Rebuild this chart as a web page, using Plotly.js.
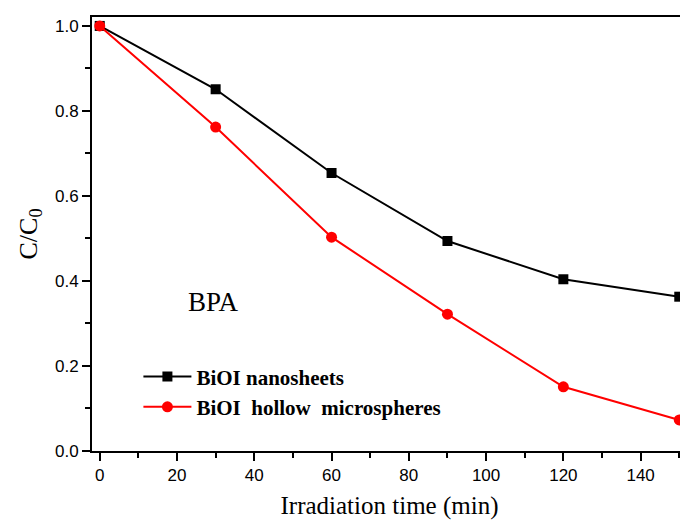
<!DOCTYPE html>
<html><head><meta charset="utf-8">
<script src="https://cdn.plot.ly/plotly-3.0.1.min.js"></script>
<style>html,body{margin:0;padding:0;overflow:hidden;background:#fff;width:680px;height:525px}</style>
</head><body><div id="chart" style="width:700px;height:525px"></div>
<script>
const time = [0, 30, 60, 90, 120, 150];
const nanosheets = [1.0, 0.851, 0.654, 0.494, 0.404, 0.363];
const hollow = [1.0, 0.762, 0.503, 0.322, 0.151, 0.073];
const seriesNames = ['BiOI nanosheets', 'BiOI&nbsp; hollow&nbsp; microspheres'];
const xTicks = [0, 20, 40, 60, 80, 100, 120, 140];
const yTicks = [0.0, 0.2, 0.4, 0.6, 0.8, 1.0];

const traces = [
  {x: time, y: nanosheets, name: seriesNames[0], mode: 'lines+markers', cliponaxis: false,
   line: {color: 'black', width: 2}, marker: {symbol: 'square', size: 10, color: 'black'}},
  {x: time, y: hollow, name: seriesNames[1], mode: 'lines+markers', cliponaxis: false,
   line: {color: '#ff0000', width: 2}, marker: {symbol: 'circle', size: 11, color: '#ff0000'}}
];

const axisCommon = {
  showline: true, linecolor: 'black', linewidth: 2, mirror: true,
  ticks: 'outside', tickcolor: 'black', tickwidth: 2, ticklen: 8,
  showgrid: false, zeroline: false,
  tickfont: {family: 'Liberation Sans, Arial', size: 17, color: 'black'}
};

const layout = {
  width: 700, height: 525,
  margin: {l: 92, r: 13, t: 17, b: 74},
  paper_bgcolor: 'white', plot_bgcolor: 'white',
  showlegend: true,
  legend: {x: 0.078, y: 0.218, xanchor: 'left', yanchor: 'top', bgcolor: 'rgba(0,0,0,0)',
           font: {family: 'Liberation Serif, Times New Roman', size: 21, color: 'black', weight: 'bold'},
           tracegroupgap: 0, itemwidth: 48},
  xaxis: Object.assign({}, axisCommon, {
    range: [-2, 152], tickvals: xTicks, ticktext: xTicks.map(String),
    minor: {dtick: 10, tick0: 0, ticks: 'outside', ticklen: 5, tickwidth: 2, tickcolor: 'black'},
    title: {text: 'Irradiation time (min)', standoff: 12,
            font: {family: 'Liberation Serif, Times New Roman', size: 25, color: 'black'}}
  }),
  yaxis: Object.assign({}, axisCommon, {
    range: [0, 1.021], tickvals: yTicks, ticktext: yTicks.map(v => v.toFixed(1)),
    minor: {dtick: 0.1, tick0: 0, ticks: 'outside', ticklen: 5, tickwidth: 2, tickcolor: 'black'},
    title: {text: 'C/C<sub>0</sub>', standoff: 10,
            font: {family: 'Liberation Serif, Times New Roman', size: 26, color: 'black'}}
  }),
  annotations: [{x: 29.4, y: 0.35, xref: 'x', yref: 'y', text: 'BPA', showarrow: false,
    font: {family: 'Liberation Serif, Times New Roman', size: 27, color: 'black'}}]
};

Plotly.newPlot('chart', traces, layout, {displayModeBar: false, staticPlot: true});
</script></body></html>
